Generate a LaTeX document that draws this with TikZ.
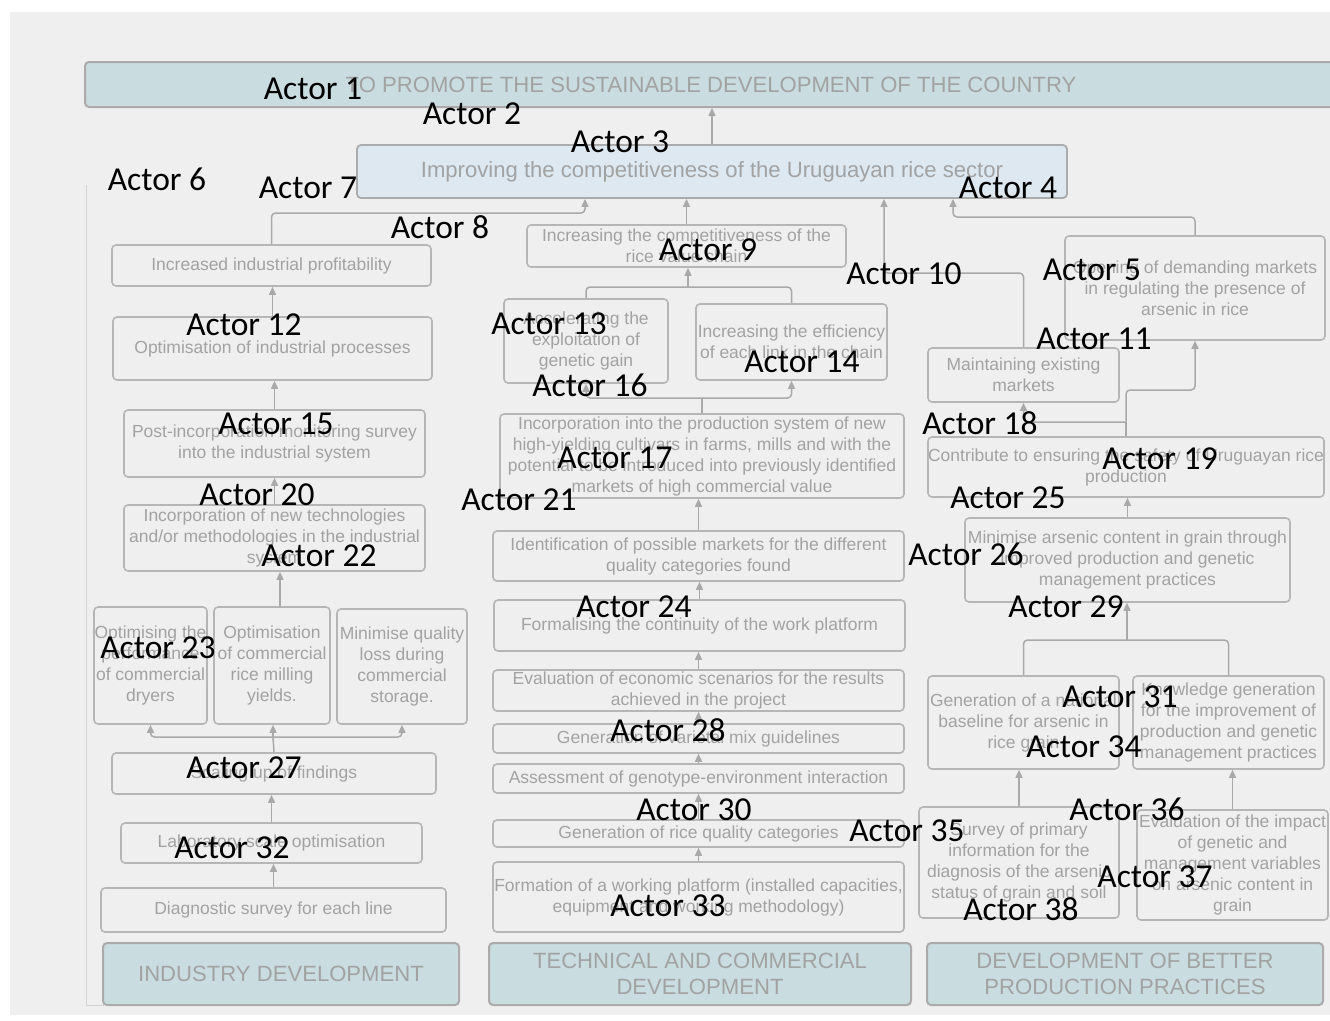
\documentclass[tikz,border=0pt]{standalone}
\usepackage{fontspec}
\setmainfont{Liberation Sans}
\newfontfamily\actorfont{Carlito}
\usetikzlibrary{arrows.meta}

\definecolor{bggrey}{HTML}{EFEFEF}
\definecolor{edgec}{HTML}{B6B6B6}
\definecolor{headedge}{HTML}{ABABAB}
\definecolor{txtc}{HTML}{A2A2A2}
\definecolor{tealfill}{HTML}{C9DCDF}
\definecolor{palefill}{HTML}{DDE8F0}
\definecolor{wirec}{HTML}{A9A9A9}
\definecolor{framec}{HTML}{D2D2D2}

\newcommand\bxfont{\fontsize{17.5}{21}\selectfont}
\newcommand\hdfont{\fontsize{22.1}{26}\selectfont}
\newcommand\acfont{\actorfont\fontsize{33.5}{40}\selectfont}

\begin{document}
\begin{tikzpicture}[x=1pt,y=-1pt,
  box/.style={draw=edgec, line width=1.6pt, rounded corners=4pt, inner sep=0pt,
              align=center, text=txtc, font=\bxfont},
  sz/.style 2 args={minimum width=#1pt, minimum height=#2pt},
  head/.style={box, fill=tealfill, draw=headedge, line width=2pt, font=\hdfont},
  wire/.style={draw=wirec, line width=1.5pt, rounded corners=4pt},
  arr/.style={wire, -{Triangle[length=8pt,width=7pt]}},
  actor/.style={anchor=base, inner sep=0pt, font=\acfont, text=black}]

\useasboundingbox (0,0) rectangle (1330,1020);
\clip (0,0) rectangle (1330,1020);
\fill[white] (0,0) rectangle (1330,1020);
\fill[bggrey] (10,12) rectangle (1330,1015);

% faint outer frame on the left
\draw[framec, line width=1pt] (86,185) -- (86,1005) -- (104,1005);

% ---------- top goals ----------
\node[head, sz={1252}{45}] (banner) at (711,84.5)
  {TO PROMOTE THE SUSTAINABLE DEVELOPMENT OF THE COUNTRY};
\node[box, fill=palefill, draw=headedge, line width=1.8pt, font=\hdfont, sz={710}{53}] (goal) at (712,171.5)
  {Improving the competitiveness of the Uruguayan rice sector};

% ---------- intermediate results ----------
\node[box, sz={319}{41}] (prof) at (271.5,265.5) {Increased industrial profitability};
\node[box, sz={319}{42}] (vchain) at (686.5,246) {Increasing the competitiveness of the\\rice value chain};
\node[box, sz={260}{104}] (opening) at (1195,288) {Opening of demanding markets\\in regulating the presence of\\arsenic in rice};
\node[box, sz={319}{63}] (optproc) at (272.5,348.5) {Optimisation of industrial processes};
\node[box, sz={164}{84}] (accel) at (586,341) {Accelerating the\\exploitation of\\genetic gain};
\node[box, sz={191}{76}] (effic) at (791.5,342) {Increasing the efficiency\\of each link in the chain};
\node[box, sz={191}{54}] (maint) at (1023.5,375) {Maintaining existing\\markets};
\node[box, sz={301}{67}] (postinc) at (274.5,443.5) {Post-incorporation monitoring survey\\into the industrial system};
\node[box, sz={404}{84}] (incprod) at (702,456) {Incorporation into the production system of new\\high-yielding cultivars in farms, mills and with the\\potential to be introduced into previously identified\\markets of high commercial value};
\node[box, sz={396}{60}] (safety) at (1126,467) {Contribute to ensuring the safety of Uruguayan rice\\production};
\node[box, sz={301}{66}] (inctech) at (274.5,538) {Incorporation of new technologies\\and/or methodologies in the industrial\\system};
\node[box, sz={411}{50}] (ident) at (698.5,556) {Identification of possible markets for the different\\quality categories found};
\node[box, sz={325}{84}] (minars) at (1127.5,560) {Minimise arsenic content in grain through\\improved production and genetic\\management practices};

% ---------- activities ----------
\node[box, sz={113}{117}] (dryers) at (150.5,665.5) {Optimising the\\performance\\of commercial\\dryers};
\node[box, sz={116}{117}] (milling) at (272,665.5) {Optimisation\\of commercial\\rice milling\\yields.};
\node[box, sz={130}{115}] (storage) at (402,666.5) {Minimise quality\\loss during\\commercial\\storage.};
\node[box, sz={411}{51}] (formal) at (699.5,625.5) {Formalising the continuity of the work platform};
\node[box, sz={191}{93}] (baseline) at (1023.5,722.5) {Generation of a national\\baseline for arsenic in\\rice grain};
\node[box, sz={191}{93}] (knowl) at (1228.5,722.5) {Knowledge generation\\for the improvement of\\production and genetic\\management practices};
\node[box, sz={411}{41}] (evalecon) at (698.5,690.5) {Evaluation of economic scenarios for the results\\achieved in the project};
\node[box, sz={411}{29}] (varmix) at (698.5,738.5) {Generation of varietal mix guidelines};
\node[box, sz={324}{41}] (scaling) at (274,773.5) {Scaling up of findings};
\node[box, sz={411}{29}] (geno) at (698.5,778.5) {Assessment of genotype-environment interaction};
\node[box, sz={411}{27}] (quality) at (698.5,833.5) {Generation of rice quality categories};
\node[box, sz={301}{40}] (lab) at (271.5,843) {Laboratory scale optimisation};
\node[box, sz={200}{111}] (survey) at (1019,862.5) {Survey of primary\\information for the\\diagnosis of the arsenic\\status of grain and soil};
\node[box, sz={191}{110}] (evalimp) at (1232.5,865) {Evaluation of the impact\\of genetic and\\management variables\\on arsenic content in\\grain};
\node[box, sz={411}{70}] (platform) at (698.5,897) {Formation of a working platform (installed capacities,\\equipment and working methodology)};
\node[box, sz={345}{44}] (diag) at (273.5,910) {Diagnostic survey for each line};

% ---------- axes ----------
\node[head, sz={356}{62}] (footind) at (281,974) {INDUSTRY DEVELOPMENT};
\node[head, sz={422}{62}] (foottec) at (700,974) {TECHNICAL AND COMMERCIAL\\DEVELOPMENT};
\node[head, sz={396}{62}] (footprod) at (1125,974) {DEVELOPMENT OF BETTER\\PRODUCTION PRACTICES};

% ---------- connectors ----------
\draw[arr] (goal.north) -- (goal.north |- banner.south);

\coordinate (e1) at (585,213);
\draw[arr] (prof.north) |- (e1) -- (e1 |- goal.south);
\draw[arr] (vchain.north) -- (vchain.north |- goal.south);
\coordinate (e2) at (884,273);
\draw[arr] (maint.north) |- (e2) -- (e2 |- goal.south);
\coordinate (e3) at (953,217);
\draw[arr] (opening.north) |- (e3) -- (e3 |- goal.south);

\draw[arr] (optproc.north) -- (optproc.north |- prof.south);

\coordinate (j1) at (688,287);
\draw[wire] (accel.north) |- (j1);
\draw[wire] (effic.north) |- (j1);
\draw[arr] (j1) -- (j1 |- vchain.south);

\draw[arr] (postinc.north) -- (postinc.north |- optproc.south);

\coordinate (j2) at (702,398);
\draw[wire] (incprod.north) -- (j2);
\draw[arr] (j2) -| (accel.south);
\draw[arr] (j2) -| (effic.south);

\coordinate (j3) at (1126,422);
\coordinate (e4) at (1126,390);
\draw[wire] (safety.north) -- (j3);
\draw[arr] (j3) -| (maint.south);
\draw[arr] (j3) -- (e4) -| (opening.south);

\draw[arr] (inctech.north) -- (inctech.north |- postinc.south);
\draw[arr] (ident.north) -- (ident.north |- incprod.south);
\draw[arr] (minars.north) -- (minars.north |- safety.south);

\coordinate (e5) at (280,0);
\draw[arr] (e5 |- milling.north) -- (e5 |- inctech.south);

\draw[arr] (formal.north) -- (formal.north |- ident.south);

\coordinate (j4) at (1127,640);
\draw[wire] (baseline.north) |- (j4);
\draw[wire] (knowl.north) |- (j4);
\draw[arr] (j4) -- (j4 |- minars.south);

\draw[arr] (evalecon.north) -- (evalecon.north |- formal.south);
\draw[arr] (varmix.north) -- (varmix.north |- evalecon.south);
\draw[arr] (geno.north) -- (geno.north |- varmix.south);
\draw[arr] (quality.north) -- (quality.north |- geno.south);
\draw[arr] (platform.north) -- (platform.north |- quality.south);

\coordinate (j5) at (273,737);
\draw[wire] (scaling.north) -- (j5);
\draw[arr] (j5) -| (dryers.south);
\draw[arr] (j5) -| (storage.south);
\draw[arr] (j5) -- (j5 |- milling.south);

\draw[arr] (lab.north) -- (lab.north |- scaling.south);
\draw[arr] (diag.north) -- (diag.north |- lab.south);

\draw[arr] (survey.north) -- (survey.north |- baseline.south);
\draw[arr] (evalimp.north) -- (evalimp.north |- knowl.south);

% ---------- actor labels ----------
\node[actor] (a1) at (313,99) {Actor 1};
\node[actor] (a2) at (472,124) {Actor 2};
\node[actor] (a3) at (620,152) {Actor 3};
\node[actor] (a4) at (1008,198) {Actor 4};
\node[actor] (a5) at (1092,280) {Actor 5};
\node[actor] (a6) at (157,190) {Actor 6};
\node[actor] (a7) at (308,198) {Actor 7};
\node[actor] (a8) at (440,238) {Actor 8};
\node[actor] (a9) at (708,260) {Actor 9};
\node[actor] (a10) at (904,284) {Actor 10};
\node[actor] (a11) at (1094,349) {Actor 11};
\node[actor] (a12) at (244,335) {Actor 12};
\node[actor] (a13) at (549,334) {Actor 13};
\node[actor] (a14) at (802,372) {Actor 14};
\node[actor] (a15) at (276,434) {Actor 15};
\node[actor] (a16) at (590,396) {Actor 16};
\node[actor] (a17) at (615,468) {Actor 17};
\node[actor] (a18) at (980,434) {Actor 18};
\node[actor] (a19) at (1160,469) {Actor 19};
\node[actor] (a20) at (257,505) {Actor 20};
\node[actor] (a21) at (519,510) {Actor 21};
\node[actor] (a22) at (319,566) {Actor 22};
\node[actor] (a23) at (158,658) {Actor 23};
\node[actor] (a24) at (634,617) {Actor 24};
\node[actor] (a25) at (1008,508) {Actor 25};
\node[actor] (a26) at (966,565) {Actor 26};
\node[actor] (a27) at (244,778) {Actor 27};
\node[actor] (a28) at (668,741) {Actor 28};
\node[actor] (a29) at (1066,617) {Actor 29};
\node[actor] (a30) at (694,820) {Actor 30};
\node[actor] (a31) at (1120,707) {Actor 31};
\node[actor] (a32) at (232,858) {Actor 32};
\node[actor] (a33) at (668,916) {Actor 33};
\node[actor] (a34) at (1084,757) {Actor 34};
\node[actor] (a35) at (907,841) {Actor 35};
\node[actor] (a36) at (1127,820) {Actor 36};
\node[actor] (a37) at (1155,887) {Actor 37};
\node[actor] (a38) at (1021,920) {Actor 38};
\end{tikzpicture}
\end{document}
